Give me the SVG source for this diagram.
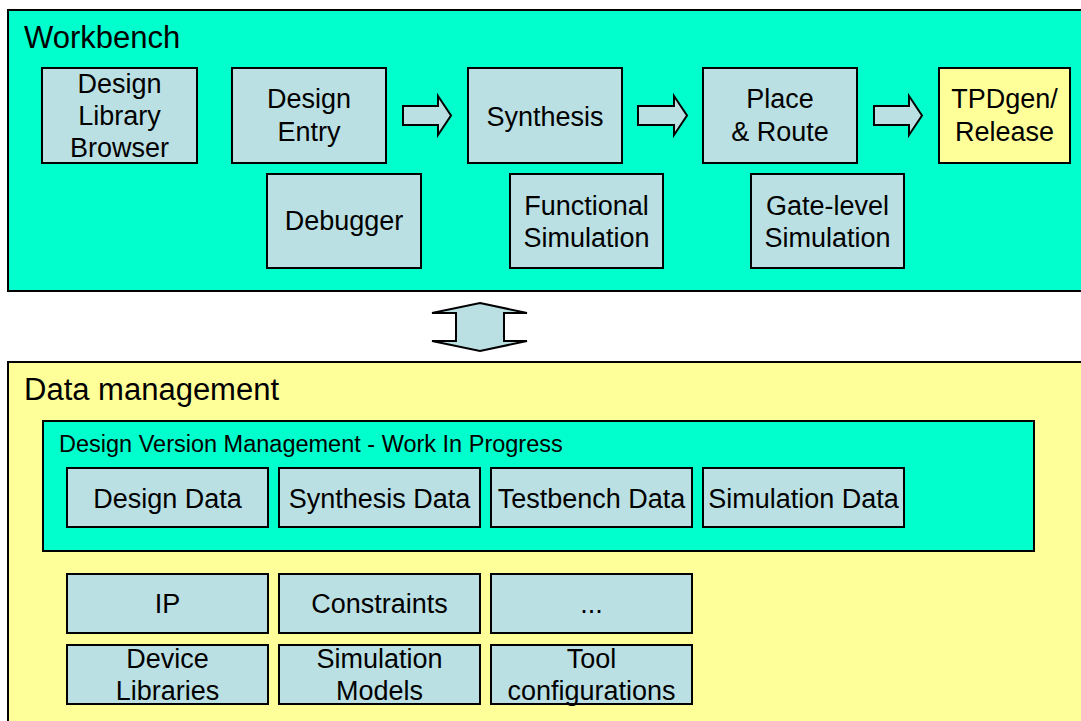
<svg xmlns="http://www.w3.org/2000/svg" width="1081" height="721" viewBox="0 0 1081 721">
<style>
.frame{stroke:#000;stroke-width:2}
.cyan{fill:#00FFCC}
.yellow{fill:#FFFF99}
.box{fill:#BBE0E3;stroke:#000;stroke-width:2}
.ybox{fill:#FFFF99;stroke:#000;stroke-width:2}
.arrow{fill:#BBE0E3;stroke:#000;stroke-width:2;stroke-linejoin:miter}
text{font-family:"Liberation Sans",Arial,Helvetica,sans-serif;fill:#000}
.t{font-size:27px;text-anchor:middle}
.h{font-size:31px}
.s{font-size:23.5px}
</style>
<rect width="1081" height="721" fill="#fff"/>

<g id="workbench">
<rect class="frame cyan" x="8" y="10" width="1100" height="281"/>
<text class="h" x="24" y="48">Workbench</text>
</g>

<g id="data-management">
<rect class="frame yellow" x="8" y="362" width="1100" height="400"/>
<text class="h" x="24" y="400">Data management</text>
</g>

<g id="dvm">
<rect class="frame cyan" x="43" y="421" width="991" height="130"/>
<text class="s" x="59" y="452">Design Version Management - Work In Progress</text>
</g>

<g id="design-library-browser">
<rect class="box" x="42" y="68" width="155" height="95"/>
<text class="t" x="119.5" y="93">Design</text>
<text class="t" x="119.5" y="125">Library</text>
<text class="t" x="119.5" y="157">Browser</text>
</g>
<g id="design-entry">
<rect class="box" x="232" y="68" width="154" height="95"/>
<text class="t" x="309" y="108">Design</text>
<text class="t" x="309" y="141">Entry</text>
</g>
<g id="synthesis">
<rect class="box" x="468" y="68" width="154" height="95"/>
<text class="t" x="545" y="126">Synthesis</text>
</g>
<g id="place-route">
<rect class="box" x="703" y="68" width="154" height="95"/>
<text class="t" x="780" y="108">Place</text>
<text class="t" x="780" y="141">&amp; Route</text>
</g>
<g id="tpdgen">
<rect class="ybox" x="939" y="68" width="131" height="95"/>
<text class="t" x="1004.5" y="108">TPDgen/</text>
<text class="t" x="1004.5" y="141">Release</text>
</g>
<g id="debugger">
<rect class="box" x="267" y="174" width="154" height="94"/>
<text class="t" x="344" y="230">Debugger</text>
</g>
<g id="functional-simulation">
<rect class="box" x="510" y="174" width="153" height="94"/>
<text class="t" x="586.5" y="215">Functional</text>
<text class="t" x="586.5" y="247">Simulation</text>
</g>
<g id="gate-level-simulation">
<rect class="box" x="751" y="174" width="153" height="94"/>
<text class="t" x="827.5" y="215">Gate-level</text>
<text class="t" x="827.5" y="247">Simulation</text>
</g>

<g id="design-data">
<rect class="box" x="67" y="468" width="201" height="59"/>
<text class="t" x="167.5" y="508">Design Data</text>
</g>
<g id="synthesis-data">
<rect class="box" x="279" y="468" width="201" height="59"/>
<text class="t" x="379.5" y="508">Synthesis Data</text>
</g>
<g id="testbench-data">
<rect class="box" x="491" y="468" width="201" height="59"/>
<text class="t" x="591.5" y="508">Testbench Data</text>
</g>
<g id="simulation-data">
<rect class="box" x="703" y="468" width="201" height="59"/>
<text class="t" x="803.5" y="508">Simulation Data</text>
</g>
<g id="ip">
<rect class="box" x="67" y="574" width="201" height="59"/>
<text class="t" x="167.5" y="613">IP</text>
</g>
<g id="constraints">
<rect class="box" x="279" y="574" width="201" height="59"/>
<text class="t" x="379.5" y="613">Constraints</text>
</g>
<g id="more">
<rect class="box" x="491" y="574" width="201" height="59"/>
<text class="t" x="591.5" y="613">...</text>
</g>
<g id="device-libraries">
<rect class="box" x="67" y="645" width="201" height="59"/>
<text class="t" x="167.5" y="668">Device</text>
<text class="t" x="167.5" y="700">Libraries</text>
</g>
<g id="simulation-models">
<rect class="box" x="279" y="645" width="201" height="59"/>
<text class="t" x="379.5" y="668">Simulation</text>
<text class="t" x="379.5" y="700">Models</text>
</g>
<g id="tool-configurations">
<rect class="box" x="491" y="645" width="201" height="59"/>
<text class="t" x="591.5" y="668">Tool</text>
<text class="t" x="591.5" y="700">configurations</text>
</g>

<g id="connectors">
<path class="arrow" d="M403,106 H438 V96 L451,115.5 L438,135 V125 H403 Z"/>
<path class="arrow" d="M638,106 H674 V96 L687,115.5 L674,135 V125 H638 Z"/>
<path class="arrow" d="M874,106 H909 V96 L922,115.5 L909,135 V125 H874 Z"/>
<path class="arrow" d="M480,303 L527,313 H504 V341 H527 L480,351 L432,341 H456 V313 H432 Z"/>
</g>
</svg>
